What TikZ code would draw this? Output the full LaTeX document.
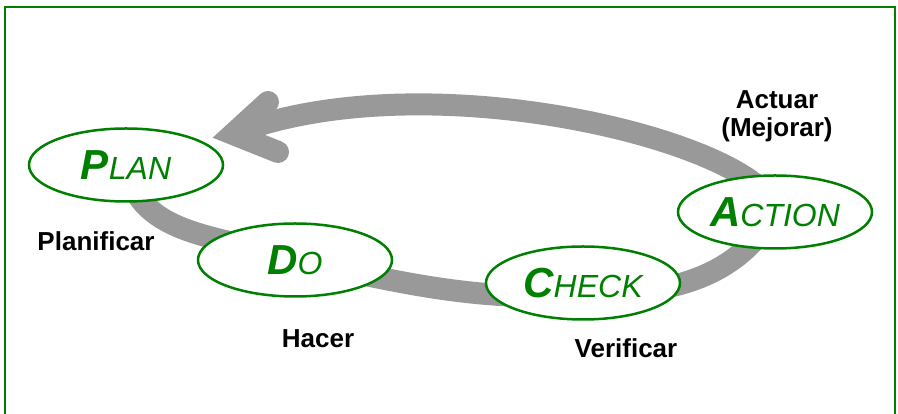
\documentclass[tikz,border=0pt]{standalone}
\usepackage{fontspec}
\setmainfont{Liberation Sans}
\usetikzlibrary{shapes.geometric, backgrounds}
\definecolor{pdgreen}{RGB}{0,128,0}
\definecolor{loopgray}{RGB}{153,153,153}
\newcommand{\stage}[2]{{\fontsize{42}{42}\selectfont\bfseries\itshape #1}{\fontsize{32}{32}\selectfont\itshape #2}}

\begin{document}
\begin{tikzpicture}[x=1pt, y=1pt]
\useasboundingbox (0,0) rectangle (898,414);
\draw[pdgreen, line width=2pt] (5,-5) rectangle (895,407);
\begin{scope}[every node/.style = {ellipse, draw=pdgreen, line width=2.5pt, fill=white, text=pdgreen, minimum width=194pt, minimum height=73pt, inner sep=0pt}]
\node (Plan) at (126, 249) {\stage{P}{LAN}};
\node (Do) at (295, 154) {\stage{D}{O}};
\node (Check) at (583, 131) {\stage{C}{HECK}};
\node (Action) at (775, 202) {\stage{A}{CTION}};
\end{scope}
\begin{scope}[every node/.style = {font=\fontsize{26}{28}\selectfont\bfseries, align=center}]
\node (Plf) at (96, 173) {Planificar};
\node (Hc) at (318, 75) {Hacer};
\node (Vf) at (626, 66) {Verificar};
\node (Ac) at (777, 298) {Actuar\\(Mejorar)};
\end{scope}
\coordinate (Tail) at (233, 280);
\coordinate (BarbU) at (268, 312);
\coordinate (BarbL) at (278, 262);
\begin{scope}[on background layer, every edge/.style = {draw=loopgray, line width=22pt}]
\path (Plan.center) edge[out=-80, in=160] (Do.center);
\path (Do.center) edge[out=-12, in=182] ([yshift=-13pt]Check.center);
\path ([yshift=-13pt]Check.center) edge[out=2, in=-120] (Action.center);
\path (Action.center) edge[out=95, in=21, out distance=66pt, in distance=214pt] (Tail);
\draw[loopgray, line width=22pt, line join=miter, line cap=round] (BarbU) -- (Tail) -- (BarbL);
\end{scope}
\end{tikzpicture}
\end{document}
